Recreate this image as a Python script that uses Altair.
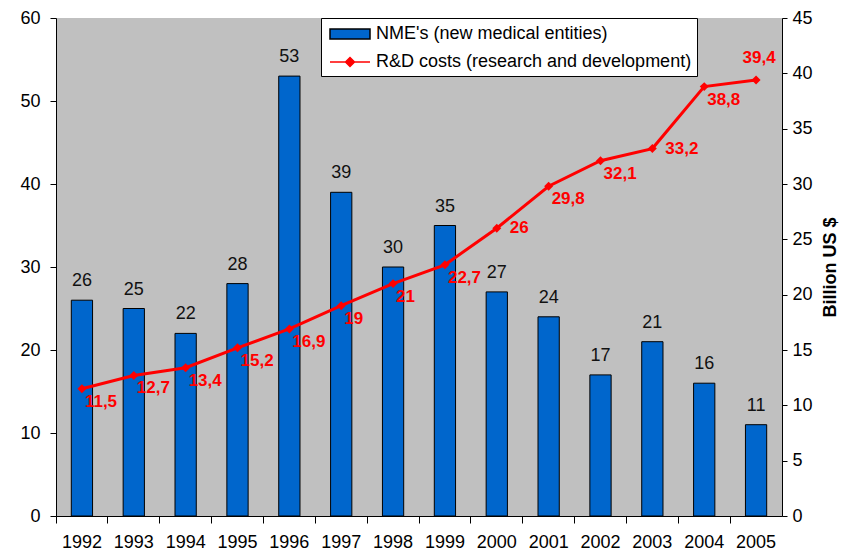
import altair as alt
import pandas as pd

# ---- data ----
years = [1992, 1993, 1994, 1995, 1996, 1997, 1998, 1999, 2000, 2001, 2002, 2003, 2004, 2005]
nme_counts = [26, 25, 22, 28, 53, 39, 30, 35, 27, 24, 17, 21, 16, 11]
rd_costs = [11.5, 12.7, 13.4, 15.2, 16.9, 19, 21, 22.7, 26, 29.8, 32.1, 33.2, 38.8, 39.4]
series_names = ["NME's (new medical entities)", "R&D costs (research and development)"]
left_ticks = [0, 10, 20, 30, 40, 50, 60]
right_ticks = [0, 5, 10, 15, 20, 25, 30, 35, 40, 45]
right_title = "Billion US $"

# label placement groups (styling)
labels_right_of_point = [2000, 2003]
labels_above_point = [2005]

FONT = "Liberation Sans"
BLUE = "#0066CC"
RED = "#FF0000"
GREY = "#C0C0C0"
W, H = 726, 498

df = pd.DataFrame({"year": years, "nme": nme_counts, "rd": rd_costs})
legend_df = pd.DataFrame({"series": series_names})

x_enc = alt.X(
    "year:O",
    scale=alt.Scale(paddingInner=0, paddingOuter=0),
    axis=alt.Axis(title=None, labelAngle=0, bandPosition=0, tickSize=7, labelPadding=10),
)
y_left = alt.Y(
    "nme:Q",
    scale=alt.Scale(domain=[0, 60], nice=False),
    axis=alt.Axis(values=left_ticks, title=None, tickSize=6, labelPadding=10),
)
y_right = alt.Y(
    "rd:Q",
    scale=alt.Scale(domain=[0, 45], nice=False),
    axis=alt.Axis(
        orient="right", values=right_ticks, title=right_title, titleAngle=270,
        titleFontWeight="bold", titleFontSize=18, titleX=48, titleY=H / 2,
        titleAlign="center", titleBaseline="middle", tickSize=5, labelPadding=5,
    ),
)

base = alt.Chart(df).encode(x=x_enc)

bars = base.mark_bar(
    color=BLUE, stroke="#000000", strokeWidth=1, width=alt.RelativeBandSize(0.41)
).encode(y=y_left)
bar_text = base.mark_text(
    baseline="alphabetic", dy=-14, fontSize=18, font=FONT, color="#111111"
).encode(y=y_left, text="nme:Q")

rd_line = base.mark_line(color=RED, strokeWidth=3).encode(y=y_right)
rd_points = base.mark_point(shape="diamond", filled=True, size=80, color=RED, opacity=1).encode(y=y_right)

label_expr = "replace(toString(datum.rd), '.', ',')"
special = labels_right_of_point + labels_above_point


def rd_labels(pred, **kw):
    return (
        base.transform_calculate(label=label_expr)
        .transform_filter(pred)
        .mark_text(font=FONT, fontSize=17, fontWeight="bold", color=RED, **kw)
        .encode(y=y_right, text="label:N")
    )


lab_below = rd_labels(
    "indexof(%s, datum.year) < 0" % str(special), align="left", baseline="middle", dx=3, dy=13
)
lab_right = rd_labels(
    "indexof(%s, datum.year) >= 0" % str(labels_right_of_point), align="left", baseline="middle", dx=13, dy=0
)
lab_above = rd_labels(
    "indexof(%s, datum.year) >= 0" % str(labels_above_point), align="center", baseline="middle", dx=3, dy=-22
)

# legend swatches: 40px wide
rect_path = "M-0.7,-0.5H3.3V0.5H-0.7Z"
line_path = "M-0.7,0H3.3M1.3,-0.45L1.75,0L1.3,0.45L0.85,0Z"
leg = alt.Legend(
    title=None, orient="none", legendX=265, legendY=0, fillColor="white", strokeColor="black",
    padding=5, labelFont=FONT, labelFontSize=18, labelColor="#000000", labelOffset=28,
    symbolSize=400, rowPadding=8, labelLimit=600,
)
legend_layer = alt.Chart(legend_df).mark_point(filled=True, opacity=1).encode(
    color=alt.Color("series:N", scale=alt.Scale(domain=series_names, range=[BLUE, RED]), legend=leg),
    shape=alt.Shape("series:N", scale=alt.Scale(domain=series_names, range=[rect_path, line_path]), legend=leg),
    stroke=alt.Stroke("series:N", scale=alt.Scale(domain=series_names, range=["#000000", RED]), legend=leg),
).transform_filter("false")

chart = (
    alt.layer(
        alt.layer(bars, bar_text),
        alt.layer(rd_line, rd_points, lab_below, lab_right, lab_above, legend_layer),
    )
    .resolve_scale(y="independent")
    .properties(
        width=W, height=H,
        padding={"left": 48, "top": 10, "right": 57, "bottom": 34},
        autosize=alt.AutoSizeParams(type="none"),
        view=alt.ViewBackground(fill=GREY, stroke=GREY),
    )
    .configure_view(fill=GREY, stroke=GREY)
    .configure_axis(
        labelFont=FONT, titleFont=FONT, labelFontSize=18, labelColor="#000000", titleColor="#000000",
        domainColor="#000000", tickColor="#000000", grid=False,
    )
)

chart.save("out.html", embed_options={"renderer": "svg", "actions": False})
